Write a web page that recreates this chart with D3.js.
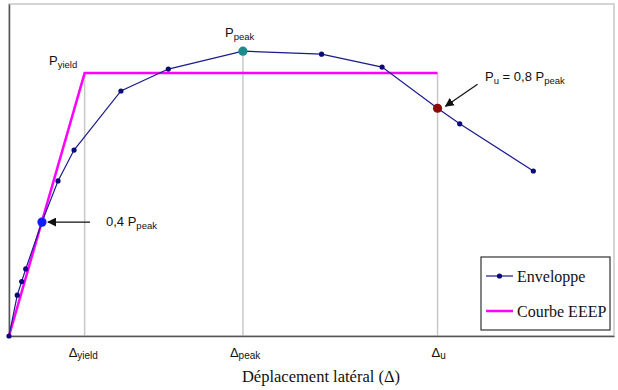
<!DOCTYPE html>
<html><head><meta charset="utf-8">
<script src="https://cdn.jsdelivr.net/npm/d3@7"></script>
<style>body{margin:0;background:#fff}svg{display:block}</style>
</head><body><svg id="c" width="618" height="390"></svg>
<script>
// Envelope (pushover) curve
const envX = [0, 0.82, 1.26, 1.66, 3.27, 4.86, 6.45, 11.1, 15.8, 23.2, 31.0, 37.0, 42.5, 44.7, 52.0];
const envY = [0, 12.3, 16.4, 20.2, 34.3, 46.7, 56.0, 73.8, 80.4, 85.8, 84.9, 81.0, 68.6, 63.9, 49.7];
// EEEP bilinear curve
const eeepX = [0, 7.5, 42.5];
const eeepY = [0, 79.2, 79.2];
// key points
const keyNames = ["0,4 Ppeak", "Ppeak", "Pu"];
const keyX = [3.27, 23.2, 42.5];
const keyY = [34.3, 85.8, 68.6];
// x tick labels
const tickVals = [7.5, 23.2, 42.5];
const tickMain = ["Δ", "Δ", "Δ"];
const tickSub = ["yield", "peak", "u"];
const legendLabels = ["Enveloppe", "Courbe EEEP"];

const svg = d3.select("#c");
const L = 9, R = 614, T = 4, B = 336;
const x = d3.scaleLinear().domain([0, 60]).range([L, R]);
const y = d3.scaleLinear().domain([0, 100]).range([B, T]);

// frame
svg.append("rect").attr("x", L).attr("y", T).attr("width", R - L).attr("height", B - T)
  .attr("fill", "none").attr("stroke", "#c8c8c8").attr("stroke-width", 1.5);

// vertical reference lines
const refTop = [eeepY[1], keyY[1], eeepY[2]];
tickVals.forEach((v, i) => {
  svg.append("line").attr("x1", x(v)).attr("x2", x(v)).attr("y1", y(refTop[i])).attr("y2", y(0))
    .attr("stroke", "#c8c8c8").attr("stroke-width", 1.5);
});

// axes
const xAxis = d3.axisBottom(x).tickValues(tickVals).tickSize(0).tickFormat("");
const gx = svg.append("g").attr("transform", `translate(0,${B})`).call(xAxis);
gx.select(".domain").attr("stroke", "#555").attr("stroke-width", 1.5);
const gy = svg.append("g").attr("transform", `translate(${L},0)`).call(d3.axisLeft(y).tickValues([]).tickSize(0));
gy.select(".domain").attr("stroke", "#555").attr("stroke-width", 1.5);

// tick labels
tickVals.forEach((v, i) => {
  const t = svg.append("text").attr("x", x(v) - 16 + (i === 2 ? 10 : i === 1 ? 3 : 0)).attr("y", 357)
    .attr("font-family", "Liberation Sans, Arial, sans-serif").attr("font-size", 13).attr("fill", "#111");
  t.append("tspan").text(tickMain[i]);
  t.append("tspan").attr("font-size", 10).attr("dy", 2).text(tickSub[i]);
});

// axis title
svg.append("text").attr("x", 321).attr("y", 382).attr("text-anchor", "middle")
  .attr("font-family", "Liberation Serif, Times New Roman, serif").attr("font-size", 16.5).attr("fill", "#111")
  .text("Déplacement latéral (Δ)");

// EEEP line
const eeepPts = eeepX.map((v, i) => [v, eeepY[i]]);
svg.append("path").datum(eeepPts)
  .attr("d", d3.line().x(d => x(d[0])).y(d => y(d[1])))
  .attr("fill", "none").attr("stroke", "#ff00ff").attr("stroke-width", 2.5);

// envelope
const envPts = envX.map((v, i) => [v, envY[i]]);
svg.append("path").datum(envPts)
  .attr("d", d3.line().x(d => x(d[0])).y(d => y(d[1])))
  .attr("fill", "none").attr("stroke", "#1a1a8c").attr("stroke-width", 1.2);
svg.selectAll("circle.env").data(envPts).enter().append("circle").attr("class", "env")
  .attr("cx", d => x(d[0])).attr("cy", d => y(d[1])).attr("r", 2.6).attr("fill", "#0a0a78");

// key points
const keyColors = ["#0a1eff", "#1a8c8c", "#8b0a0a"];
keyX.forEach((v, i) => {
  svg.append("circle").attr("cx", x(v)).attr("cy", y(keyY[i])).attr("r", 4.6).attr("fill", keyColors[i]);
});

// arrow marker
svg.append("defs").append("marker").attr("id", "ah").attr("viewBox", "0 0 10 10")
  .attr("refX", 9).attr("refY", 5).attr("markerWidth", 9).attr("markerHeight", 9)
  .attr("markerUnits", "userSpaceOnUse").attr("orient", "auto")
  .append("path").attr("d", "M0,0L10,5L0,10z").attr("fill", "#111");

// arrow to 0.4 Ppeak
svg.append("line").attr("x1", x(keyX[0]) + 48).attr("y1", y(keyY[0])).attr("x2", x(keyX[0]) + 6).attr("y2", y(keyY[0]))
  .attr("stroke", "#111").attr("stroke-width", 1.2).attr("marker-end", "url(#ah)");
// arrow to Pu
svg.append("line").attr("x1", x(keyX[2]) + 40).attr("y1", y(keyY[2]) - 24).attr("x2", x(keyX[2]) + 8).attr("y2", y(keyY[2]) - 2)
  .attr("stroke", "#111").attr("stroke-width", 1.2).attr("marker-end", "url(#ah)");

// annotations
function pLabel(px, py, parts) {
  const t = svg.append("text").attr("x", px).attr("y", py)
    .attr("font-family", "Liberation Sans, Arial, sans-serif").attr("font-size", 13).attr("fill", "#111");
  parts.forEach(p => {
    const s = t.append("tspan").text(p[0]);
    if (p[1]) s.attr("font-size", 9.5).attr("dy", 3);
    if (p[2]) s.attr("dy", -3);
  });
}
pLabel(49, 65, [["P"], ["yield", 1]]);
pLabel(225, 37, [["P"], ["peak", 1]]);
pLabel(485, 81, [["P"], ["u", 1], [" = 0,8 P", 0, 1], ["peak", 1]]);
pLabel(106, 226, [["0,4 P"], ["peak", 1]]);

// legend
svg.append("rect").attr("x", 481).attr("y", 257).attr("width", 129).attr("height", 73)
  .attr("fill", "#fff").attr("stroke", "#333").attr("stroke-width", 1.2);
const lg = svg.append("g");
lg.append("line").attr("x1", 486).attr("x2", 513).attr("y1", 276).attr("y2", 276).attr("stroke", "#1a1a8c").attr("stroke-width", 1.2);
lg.append("circle").attr("cx", 499.5).attr("cy", 276).attr("r", 2.6).attr("fill", "#0a0a78");
lg.append("line").attr("x1", 486).attr("x2", 513).attr("y1", 311).attr("y2", 311).attr("stroke", "#ff00ff").attr("stroke-width", 2.5);
legendLabels.forEach((s, i) => {
  lg.append("text").attr("x", 517).attr("y", 281.5 + i * 35)
    .attr("font-family", "Liberation Serif, Times New Roman, serif").attr("font-size", 16).attr("fill", "#111").text(s);
});
</script></body></html>
